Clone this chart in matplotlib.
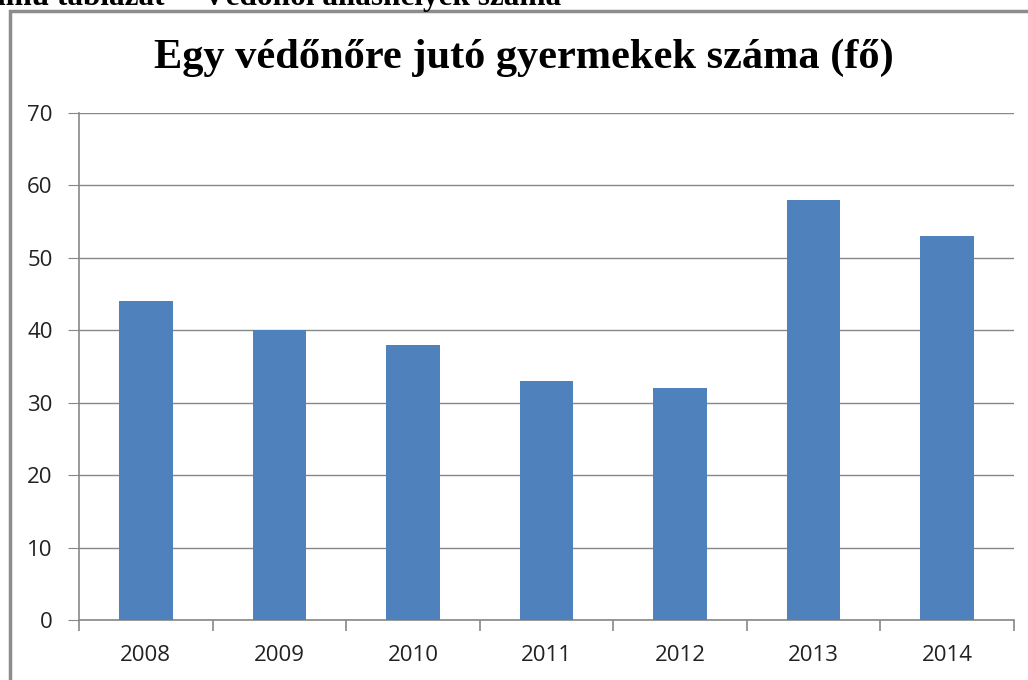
import matplotlib.pyplot as plt
from matplotlib.patches import Rectangle

years = ['2008', '2009', '2010', '2011', '2012', '2013', '2014']
children = [44, 40, 38, 33, 32, 58, 53]
yticks = [0, 10, 20, 30, 40, 50, 60, 70]

title = 'Egy védőnőre jutó gyermekek száma (fő)'
caption_a = 'számú táblázat –'
caption_b = 'Védőnői álláshelyek száma'

W, H = 1028, 680
fig = plt.figure(figsize=(W / 100, H / 100), dpi=100)

# cut off caption from the document above the chart
fig.text(188 / W, 1.0 - 5 / H, caption_a, family='Liberation Serif', weight='bold',
         fontsize=22.5, va='baseline', ha='right')
fig.text(203 / W, 1.0 - 5 / H, caption_b, family='Liberation Serif', weight='bold',
         fontsize=22.5, va='baseline', ha='left')

# chart frame (cropped on right and bottom)
fig.patches.append(Rectangle((10 / W, -0.05), 1.2, (670 / H) + 0.05 - 0.002,
                             transform=fig.transFigure, fill=False,
                             edgecolor='#8c8c8c', linewidth=2.5))

ax = fig.add_axes([79 / W, 60 / H, 935 / W, 507 / H])
x = range(len(years))
ax.bar(x, children, width=0.4, color='#4F81BD', zorder=3)

ax.set_xlim(-0.5, len(years) - 0.5)
ax.set_ylim(0, 70)
ax.set_yticks(yticks)
ax.set_xticks(list(x))
ax.set_xticklabels(years)
ax.set_xticks([i - 0.5 for i in range(len(years) + 1)], minor=True)

ax.grid(axis='y', color='#878787', linewidth=1, zorder=0)
for s in ['top', 'right']:
    ax.spines[s].set_visible(False)
for s in ['left', 'bottom']:
    ax.spines[s].set_color('#878787')
    ax.spines[s].set_linewidth(1.2)

ax.tick_params(axis='y', length=8, color='#878787', pad=11, labelsize=16,
               labelcolor='#222222')
ax.tick_params(axis='x', which='major', length=0, pad=18, labelsize=16,
               labelcolor='#222222')
ax.tick_params(axis='x', which='minor', length=8, color='#878787', width=1.2)
for lab in ax.get_xticklabels() + ax.get_yticklabels():
    lab.set_family('Open Sans')

fig.text(0.51, 1 - 58 / H, title, family='Liberation Serif', weight='bold',
         fontsize=30.5, ha='center', va='center')

fig.savefig('out.png', dpi=100)
